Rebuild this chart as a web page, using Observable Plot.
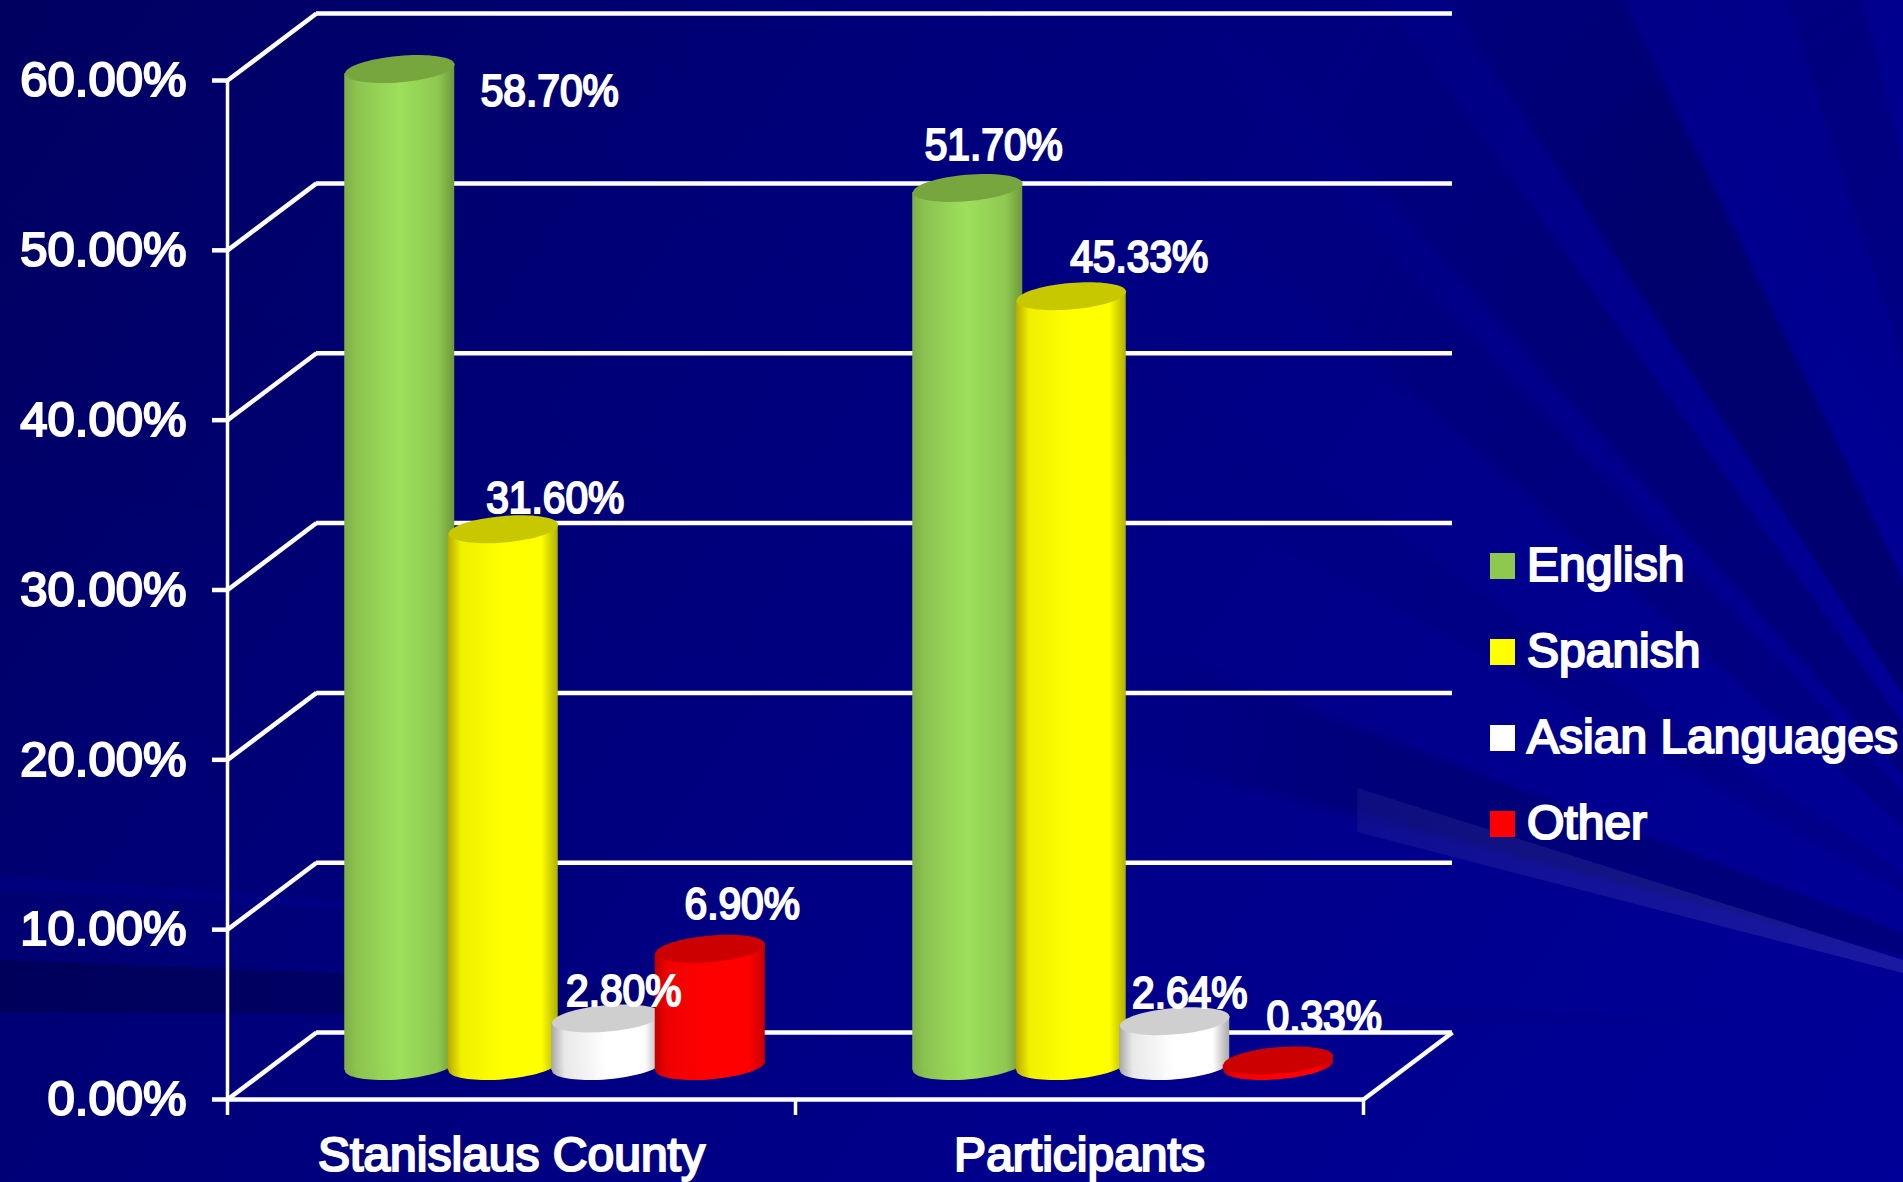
<!DOCTYPE html>
<html>
<head>
<meta charset="utf-8">
<script src="https://cdn.jsdelivr.net/npm/d3@7"></script>
<script src="https://cdn.jsdelivr.net/npm/@observablehq/plot@0.6"></script>
<style>
html,body{margin:0;padding:0;width:1903px;height:1182px;overflow:hidden;background:#000080}
#stage{position:relative;width:1903px;height:1182px;overflow:hidden;
  background:linear-gradient(125deg,#000060 0%,#00007a 35%,#00008a 65%,#000098 100%);}
#rays,#band,#dark,#lightL,#darkR{position:absolute;inset:0}
#rays{
  background:conic-gradient(at 2110px 1010px,
    rgba(0,0,70,0) 0deg 284deg,
    rgba(0,0,70,.3) 285deg 290deg,
    rgba(0,0,70,0) 291deg 299deg,
    rgba(0,0,70,.12) 300deg 303deg,
    rgba(0,0,70,0) 304deg 311deg,
    rgba(0,0,70,.2) 312deg 316deg,
    rgba(0,0,70,0) 317deg 318deg,
    rgba(0,0,70,.28) 319deg 324deg,
    rgba(0,0,255,.02) 324.5deg 326.5deg,
    rgba(0,0,70,.42) 327deg 334deg,
    rgba(0,0,255,.02) 334.5deg 338deg,
    rgba(0,0,70,0) 340deg 342deg,
    rgba(0,0,70,.16) 342.5deg 346deg,
    rgba(0,0,255,.025) 346.5deg 350deg,
    rgba(0,0,70,0) 352deg 360deg);
  -webkit-mask-image:radial-gradient(ellipse 1000px 1500px at 2110px 1010px,#000 70%,rgba(0,0,0,.08) 100%);
  mask-image:radial-gradient(ellipse 1000px 1500px at 2110px 1010px,#000 70%,rgba(0,0,0,.08) 100%);
}
#band{background:linear-gradient(90deg,transparent 1350px,rgba(255,255,255,.055) 1360px,rgba(255,255,255,.1) 1903px);
  clip-path:polygon(1357px 788px,1903px 960px,1903px 973px,1357px 832px)}
#dark{background:linear-gradient(90deg,rgba(0,0,60,.45),rgba(0,0,60,.38) 345px,rgba(0,0,60,0) 760px);
  clip-path:polygon(0 960px,760px 990px,760px 1016px,0 1012px)}
#lightL{background:linear-gradient(90deg,rgba(0,0,255,.09),rgba(0,0,255,.06) 345px,rgba(0,0,255,0) 500px);
  clip-path:polygon(0 875px,500px 912px,500px 920px,0 889px)}
#darkR{background:linear-gradient(90deg,rgba(0,0,60,.35),rgba(0,0,60,0) 1800px);
  clip-path:polygon(1380px 1006px,1903px 1024px,1720px 1026px,1380px 1024px)}
#chart{position:absolute;left:0;top:0}
#chart svg{background:transparent;display:block}
#chart text{stroke:#fff;stroke-width:2.2px;paint-order:stroke}
#legend{position:absolute;left:1490px;top:0;color:#fff;font:normal 48px "Liberation Sans",Arial,sans-serif;-webkit-text-stroke:2.2px #fff}
#legend div{position:absolute;white-space:nowrap;left:37px;line-height:50px;height:50px}
#legend i{position:absolute;left:-37px;top:13px;width:25px;height:26px}
</style>
</head>
<body>
<div id="stage">
  <div id="rays"></div>
  <div id="band"></div>
  <div id="dark"></div>
  <div id="lightL"></div>
  <div id="darkR"></div>
  <div id="chart"></div>
  <div id="legend"></div>
</div>
<script>
const groups = ["Stanislaus County", "Participants"];
const languages = ["English", "Spanish", "Asian Languages", "Other"];
const countyValues = [58.70, 31.60, 2.80, 6.90];
const participantValues = [51.70, 45.33, 2.64, 0.33];
const dataLabels = ["58.70%", "31.60%", "2.80%", "6.90%", "51.70%", "45.33%", "2.64%", "0.33%"];
const yTicks = [0, 10, 20, 30, 40, 50, 60];

// styling only, no values
const swatch = ["#8fc84f", "#ffff00", "#ffffff", "#ff0000"];
const sideOffsets = [0, 0.12, 0.5, 0.85, 1];
const sideStops = [
  ["#7eae48", "#8cc450", "#9de05c", "#8fc850", "#6f983c"],
  ["#b8a800", "#f0f000", "#ffff00", "#ffff00", "#b0b000"],
  ["#a8a8a8", "#e8e8e8", "#ffffff", "#ffffff", "#a8a8a8"],
  ["#c00000", "#f00000", "#ff0000", "#ff0000", "#c80000"]
];
const capFill = ["#77a63e", "#c8c800", "#cfcfcf", "#cc0000"];
const labelNudge = [[150, 23], [52, -31], [17, -27], [32, -44], [26, -42], [68, -39], [15, -28], [46, -43]];
const legendTop = [540, 626, 712, 798];

const FONT = '"Liberation Sans", Arial, sans-serif';
const DEPTH_X = 89 / 568;      // wall depth in x units
const DEPTH_Y = 67 / 17;       // wall depth in y units
const STEP = 103.5 / 568;      // spacing of cylinders inside a category
const HALF = 0.5 * 110 / 568;  // half width of a cylinder
const TILT = 4.6 / 17;         // tilt of the ellipses in y units
const FLOOR_DY = -33.5;        // cylinders stand halfway into the floor
const SHIFT_X = -1 / 568;      // small correction of the cylinder row

const rows = [];
groups.forEach((g, gi) => {
  const vals = gi === 0 ? countyValues : participantValues;
  languages.forEach((lang, li) => {
    rows.push({
      group: g, language: lang, li, value: vals[li],
      label: dataLabels[gi * 4 + li],
      cx: gi + 0.5 + (li - 1.5) * STEP + DEPTH_X / 2 + SHIFT_X,
      n: gi * 4 + li
    });
  });
});

const ellipse = {
  draw(ctx, size) {
    const rx = Math.sqrt(size / Math.PI), ry = rx * 0.24, a = -5 * Math.PI / 180, k = 0.5523;
    const p = (x, y) => [x * Math.cos(a) - y * Math.sin(a), x * Math.sin(a) + y * Math.cos(a)];
    ctx.moveTo(...p(rx, 0));
    ctx.bezierCurveTo(...p(rx, k * ry), ...p(k * rx, ry), ...p(0, ry));
    ctx.bezierCurveTo(...p(-k * rx, ry), ...p(-rx, k * ry), ...p(-rx, 0));
    ctx.bezierCurveTo(...p(-rx, -k * ry), ...p(-k * rx, -ry), ...p(0, -ry));
    ctx.bezierCurveTo(...p(k * rx, -ry), ...p(rx, -k * ry), ...p(rx, 0));
    ctx.closePath();
  }
};

function defs() {
  const d = d3.create("svg:defs");
  sideStops.forEach((stops, i) => {
    const g = d.append("linearGradient").attr("id", "side" + i).attr("x1", 0).attr("x2", 1).attr("y1", 0).attr("y2", 0);
    sideOffsets.forEach((o, j) => g.append("stop").attr("offset", o).attr("stop-color", stops[j]));
  });
  return d.node();
}

const white = {stroke: "white", strokeWidth: 4.5};
const marks = [
  defs,
  // back wall lines
  Plot.ruleY(yTicks, {x1: DEPTH_X, x2: 2 + DEPTH_X, y: d => d + DEPTH_Y, ...white}),
  // side wall diagonals
  Plot.link(yTicks, {x1: 0, y1: d => d, x2: DEPTH_X, y2: d => d + DEPTH_Y, ...white}),
  // right floor edge
  Plot.link([0], {x1: 2, y1: 0, x2: 2 + DEPTH_X, y2: DEPTH_Y, ...white}),
  Plot.ruleY([0], {x1: 0, x2: 2, ...white}),
  Plot.ruleX([0], {y1: 0, y2: 60, stroke: "white", strokeWidth: 3.5}),
  Plot.axisY({
    anchor: "left", ticks: yTicks, tickSize: 15, tickPadding: 26, label: null,
    tickFormat: d => d.toFixed(2) + "%", stroke: "white", strokeWidth: 4.5, fill: "white",
    fontSize: 49, fontFamily: FONT
  }),
  Plot.axisX({
    anchor: "bottom", ticks: [0, 1, 2], tickSize: 16, tickFormat: () => "", label: null,
    stroke: "white", strokeWidth: 3.5
  }),
  Plot.axisX({
    anchor: "bottom", ticks: [0.5, 1.5], tickSize: 0, tickPadding: 37, label: null,
    tickFormat: d => groups[Math.floor(d)], fill: "white", stroke: "none",
    fontSize: 48, fontFamily: FONT
  })
];

languages.forEach((lang, li) => {
  const sub = rows.filter(r => r.li === li);
  const fill = `url(#side${li})`;
  // bottom ellipse
  marks.push(Plot.dot(sub, {x: "cx", y: () => 0, dy: FLOOR_DY, r: 55, symbol: ellipse, fill, stroke: "none"}));
  // cylinder side, slanted like the ellipses
  const side = sub.flatMap(r => [
    {z: r.group, x: r.cx - HALF, y1: -TILT, y2: r.value - TILT},
    {z: r.group, x: r.cx + HALF, y1: TILT, y2: r.value + TILT}
  ]);
  marks.push(Plot.areaY(side, {x: "x", y1: "y1", y2: "y2", z: "z", dy: FLOOR_DY, fill, stroke: "none"}));
  // top ellipse
  marks.push(Plot.dot(sub, {x: "cx", y: "value", dy: FLOOR_DY, r: 55, symbol: ellipse, fill: capFill[li], stroke: "none"}));
});

rows.forEach(r => {
  const [dx, dy] = labelNudge[r.n];
  marks.push(Plot.text([r], {
    x: "cx", y: "value", text: "label", dx, dy: dy + FLOOR_DY,
    fill: "white", fontSize: 45, fontFamily: FONT
  }));
});

const chart = Plot.plot({
  width: 1903, height: 1182,
  marginLeft: 227, marginRight: 540, marginTop: 80, marginBottom: 83,
  x: {type: "linear", domain: [0, 2], axis: null},
  y: {type: "linear", domain: [0, 60], axis: null},
  style: {background: "transparent", overflow: "visible"},
  marks
});
document.getElementById("chart").appendChild(chart);

// the data labels are set slightly condensed, as in the reference
chart.querySelectorAll("text").forEach(t => {
  if (dataLabels.includes(t.textContent)) {
    t.setAttribute("textLength", (t.getComputedTextLength() * 0.905).toFixed(1));
    t.setAttribute("lengthAdjust", "spacingAndGlyphs");
  }
});

const lg = d3.select("#legend");
languages.forEach((lang, i) => {
  const row = lg.append("div").style("top", legendTop[i] + "px").text(lang);
  row.append("i").style("background", swatch[i]);
});
</script>
</body>
</html>
